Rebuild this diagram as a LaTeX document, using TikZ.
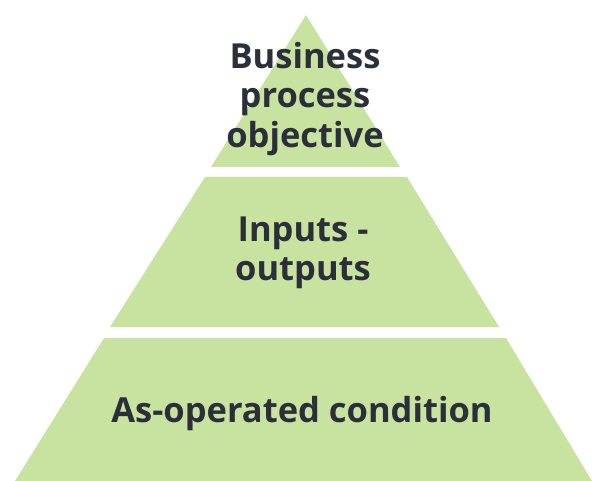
\documentclass[tikz,border=0pt]{standalone}
\usepackage{fontspec}
\setmainfont{Open Sans}
\definecolor{tier}{HTML}{C8E2A0}
\definecolor{ink}{HTML}{2B2F3A}
\begin{document}
\begin{tikzpicture}[x=1pt,y=-1pt,
  tierfill/.style={fill=tier,draw=none},
  tierlabel/.style={text=ink,font=\fontsize{34.5}{39.5}\selectfont\bfseries,align=center,inner sep=0pt}]
\useasboundingbox (0,0) rectangle (592,481);
% three tiers of the pyramid
\fill[tierfill] (306,15) -- (400,167) -- (211,167) -- cycle;
\fill[tierfill] (205,177) -- (407,177) -- (499,327) -- (110,327) -- cycle;
\fill[tierfill] (104,338) -- (506,338) -- (592,481) -- (15,481) -- cycle;
% labels
\node[tierlabel] (top) at (305,99) {Business\\process\\objective};
\node[tierlabel] (mid) at (303,253) {Inputs -\\outputs};
\node[tierlabel] (base) at (302,414) {As-operated condition};
\end{tikzpicture}
\end{document}
